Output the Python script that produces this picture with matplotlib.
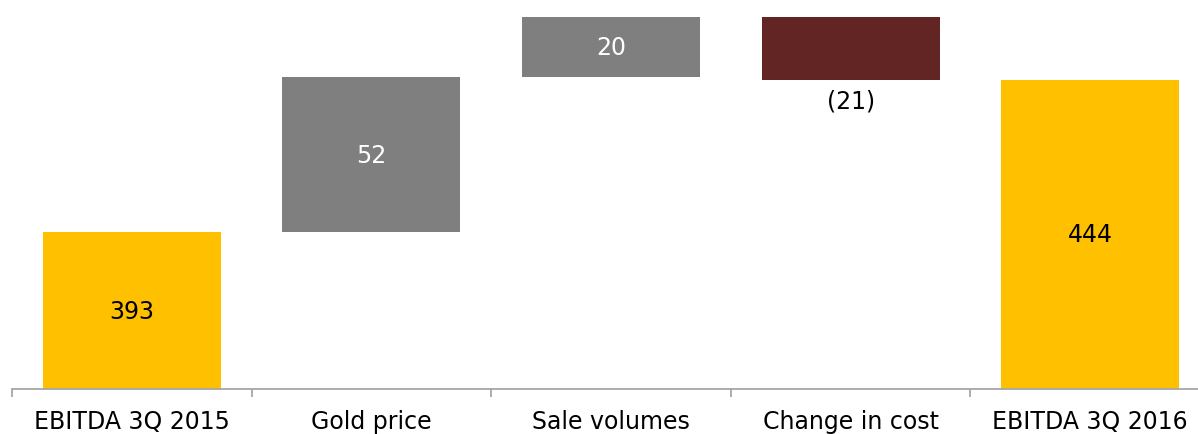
import matplotlib.pyplot as plt
import numpy as np

# Waterfall data
categories = ['EBITDA 3Q 2015', 'Gold price', 'Sale volumes', 'Change in cost', 'EBITDA 3Q 2016']
values = [393, 52, 20, -21, 444]
labels = ['393', '52', '20', '(21)', '444']
kinds = ['total', 'delta', 'delta', 'delta', 'total']

colors = {'total': '#FFC000', 'up': '#7F7F7F', 'down': '#632523'}
ymin, ymax = 340.7, 471.0

fig = plt.figure(figsize=(11.98, 4.35), dpi=100)
ax = fig.add_axes([0.01, 0.1034, 1.0, 0.8966])

# Compute bottoms / heights for the floating bars
bottoms, heights, cols = [], [], []
running = 0
for v, k in zip(values, kinds):
    if k == 'total':
        bottoms.append(0)
        heights.append(v)
        cols.append(colors['total'])
        running = v
    else:
        if v >= 0:
            bottoms.append(running)
            cols.append(colors['up'])
        else:
            bottoms.append(running + v)
            cols.append(colors['down'])
        heights.append(abs(v))
        running += v

x = np.arange(len(categories))
ax.bar(x, heights, bottom=bottoms, width=0.743, color=cols, zorder=2)

# Value labels
fs = 17
for i, (b, h, v, k, lab) in enumerate(zip(bottoms, heights, values, kinds, labels)):
    if k == 'total':
        ax.text(i, (max(b, ymin) + b + h) / 2, lab, ha='center', va='center',
                fontsize=fs, color='black')
    elif v >= 0:
        ax.text(i, b + h / 2, lab, ha='center', va='center', fontsize=fs, color='white')
    else:
        ax.text(i, b - 3, lab, ha='center', va='top', fontsize=fs, color='black')

ax.set_xlim(-0.5, len(categories) - 0.5)
ax.set_ylim(ymin, ymax)

for s in ['top', 'right', 'left']:
    ax.spines[s].set_visible(False)
ax.spines['bottom'].set_color('#A6A6A6')
ax.spines['bottom'].set_linewidth(1.3)
ax.set_yticks([])

ax.set_xticks(x)
ax.set_xticklabels(categories, fontsize=fs)
ax.tick_params(axis='x', which='major', length=0, pad=14.5)
ax.set_xticks(np.arange(-0.5, len(categories)), minor=True)
ax.tick_params(axis='x', which='minor', length=6, width=1.3, color='#A6A6A6', direction='out')

fig.savefig('out.png', dpi=100)
